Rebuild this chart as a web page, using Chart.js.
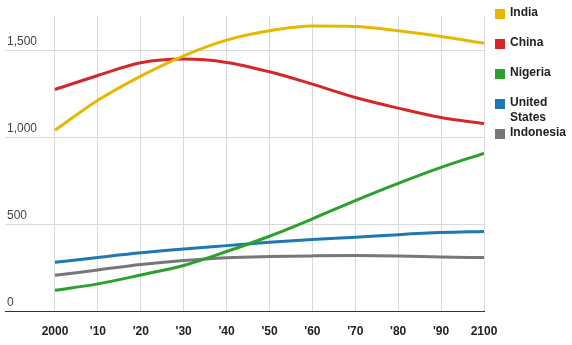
<!DOCTYPE html>
<html>
<head>
<meta charset="utf-8">
<script src="https://cdn.jsdelivr.net/npm/chart.js@4.4.1/dist/chart.umd.min.js"></script>
<style>
  html, body { margin: 0; padding: 0; background: #fff; }
  #wrap { position: relative; width: 572px; height: 345px; }
  #legend { position: absolute; left: 495px; top: 3px; font: bold 12px "Liberation Sans", Arial, sans-serif; color: #222; }
  .item { position: absolute; left: 0; width: 75px; }
  .swatch { position: absolute; left: 0; top: 6px; width: 10px; height: 10px; }
  .label { position: absolute; left: 15px; top: 2px; width: 60px; line-height: 15px; }
</style>
</head>
<body>
<div id="wrap">
  <canvas id="popChart" width="572" height="345"></canvas>
  <div id="legend"></div>
</div>
<script>
// Population projections, millions
const years = [2000, 2010, 2020, 2030, 2040, 2050, 2060, 2070, 2080, 2090, 2100];
const india = [1043, 1215, 1354, 1471, 1561, 1615, 1642, 1640, 1615, 1582, 1543];
const china = [1277, 1358, 1431, 1452, 1433, 1379, 1308, 1231, 1170, 1116, 1081];
const nigeria = [122, 159, 210, 265, 345, 433, 533, 638, 737, 829, 910];
const unitedStates = [283, 311, 338, 360, 379, 398, 414, 427, 442, 454, 460];
const indonesia = [208, 239, 270, 293, 309, 316, 320, 322, 320, 314, 310];

const countries = ['India', 'China', 'Nigeria', 'United States', 'Indonesia'];
const seriesData = [india, china, nigeria, unitedStates, indonesia];
const colors = ['#e6b800', '#d62728', '#2ca02c', '#1f77b4', '#777777'];

const yTicks = [0, 500, 1000, 1500];

const datasets = countries.map((name, i) => ({
    label: name,
    data: years.map((y, j) => ({ x: y, y: seriesData[i][j] })),
    borderColor: colors[i],
    borderWidth: 3,
    pointRadius: 0,
    fill: false,
    cubicInterpolationMode: 'monotone'
}));

const ctx = document.getElementById('popChart').getContext('2d');
new Chart(ctx, {
    type: 'line',
    data: { datasets: datasets },
    options: {
        responsive: false,
        animation: false,
        layout: { padding: { left: 5, right: 88, top: 16, bottom: 0 } },
        plugins: {
            legend: { display: false },
            tooltip: { enabled: false }
        },
        scales: {
            x: {
                type: 'linear',
                min: 1988.35,
                max: 2100,
                afterBuildTicks: axis => { axis.ticks = years.map(v => ({ value: v })); },
                afterFit: axis => { axis.height = 33.5; },
                grid: { color: '#d9d9d9', drawTicks: false },
                border: { display: true, color: '#333', width: 1 },
                ticks: {
                    padding: 13,
                    color: '#222',
                    font: { family: '"Liberation Sans", Arial, sans-serif', size: 12, weight: 'bold' },
                    callback: v => (v === 2000 || v === 2100) ? String(v) : "'" + String(v).slice(2)
                }
            },
            y: {
                min: 0,
                max: 1700,
                afterBuildTicks: axis => { axis.ticks = yTicks.map(v => ({ value: v })); },
                afterFit: axis => { axis.width = 0; },
                grid: {
                    drawTicks: false,
                    color: c => c.tick && c.tick.value === 0 ? '#333' : '#d9d9d9'
                },
                border: { display: false },
                ticks: {
                    mirror: true,
                    padding: 2,
                    labelOffset: -9,
                    color: '#444',
                    font: { family: '"Liberation Sans", Arial, sans-serif', size: 12 },
                    callback: v => v.toLocaleString('en-US')
                }
            }
        }
    }
});

// Legend on the right
const legend = document.getElementById('legend');
countries.forEach((name, i) => {
    const item = document.createElement('div');
    item.className = 'item';
    item.style.top = (i * 30) + 'px';
    item.innerHTML = `<span class="swatch" style="background:${colors[i]}"></span><span class="label">${name}</span>`;
    legend.appendChild(item);
});
</script>
</body>
</html>
